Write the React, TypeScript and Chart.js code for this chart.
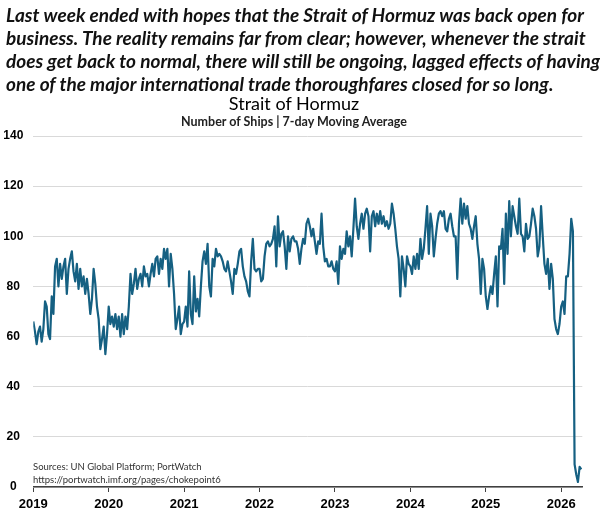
import React, { useEffect, useRef } from "react";
import { Chart, registerables } from "chart.js";

Chart.register(...registerables);

// ---- data (number of ships, 7-day moving average, sampled ~every 8 days) ----
const years = [2019, 2020, 2021, 2022, 2023, 2024, 2025, 2026];
const samplesPerYear = 45;
const ships2019 = [66, 62, 57, 62, 64, 58, 63, 74, 72, 61, 59, 76, 69, 88, 91, 80, 89, 83, 88, 91, 77, 87, 91, 94, 86, 82, 89, 79, 87, 80, 84, 77, 83, 77, 69, 75, 87, 81, 72, 67, 55, 59, 64, 53, 61];
const ships2020 = [72, 65, 68, 64, 69, 63, 68, 60, 69, 61, 68, 63, 72, 85, 77, 81, 87, 79, 83, 85, 80, 88, 84, 85, 80, 85, 89, 84, 91, 92, 85, 91, 87, 95, 91, 95, 80, 93, 87, 77, 63, 67, 72, 61, 65];
const ships2021 = [66, 72, 64, 86, 69, 65, 84, 70, 75, 68, 80, 90, 94, 89, 97, 80, 76, 91, 88, 95, 92, 93, 92, 90, 87, 86, 90, 86, 82, 77, 87, 85, 89, 94, 95, 88, 84, 82, 78, 76, 90, 99, 87, 86, 87];
const ships2022 = [87, 82, 83, 92, 97, 98, 96, 97, 99, 104, 88, 108, 96, 101, 102, 96, 87, 100, 94, 99, 100, 98, 98, 95, 89, 95, 99, 97, 105, 107, 104, 100, 103, 98, 93, 98, 97, 109, 96, 90, 91, 88, 88, 90, 87];
const ships2023 = [86, 90, 81, 96, 91, 95, 93, 102, 96, 100, 92, 103, 115, 104, 99, 105, 109, 103, 109, 111, 108, 94, 108, 110, 104, 109, 105, 110, 105, 108, 104, 106, 103, 105, 113, 109, 103, 96, 91, 76, 92, 87, 80, 92, 89];
const ships2024 = [88, 85, 92, 87, 93, 87, 99, 91, 95, 103, 112, 93, 109, 104, 92, 99, 105, 109, 110, 108, 110, 103, 102, 107, 109, 104, 100, 100, 83, 105, 115, 105, 113, 107, 112, 105, 103, 99, 104, 108, 97, 91, 77, 91, 87];
const ships2025 = [76, 71, 76, 80, 77, 85, 92, 72, 96, 95, 103, 81, 109, 93, 114, 100, 112, 108, 104, 101, 115, 101, 100, 94, 105, 99, 100, 105, 111, 108, 103, 92, 96, 112, 100, 89, 85, 91, 79, 89, 83, 67, 63, 61, 65];
const ships2026 = [72, 74, 69, 84, 84, 93, 107, 102, 9, 5, 2, 8, 7];
const shipsByYear = [ships2019, ships2020, ships2021, ships2022, ships2023, ships2024, ships2025, ships2026];

const xTickValues = [2019, 2020, 2021, 2022, 2023, 2024, 2025, 2026];
const xMin = 2019;
const xMax = 2026.28;
const yMin = 0;
const yMax = 140;
const yStep = 20;

const headerLines = [
  "Last week ended with hopes that the Strait of Hormuz was back open for",
  "business. The reality remains far from clear; however, whenever the strait",
  "does get back to normal, there will still be ongoing, lagged effects of having",
  "one of the major international trade thoroughfares closed for so long.",
];
const chartTitle = "Strait of Hormuz";
const chartSubtitle = "Number of Ships | 7-day Moving Average";
const sourceLines = ["Sources: UN Global Platform; PortWatch", "https://portwatch.imf.org/pages/chokepoint6"];

const LINE_COLOR = "#156082";
const TICK_FONT = "'Liberation Sans', Arial, sans-serif";
const HEADER_FONT = "Lato, sans-serif";
const TITLE_FONT = "Lato, 'Liberation Sans', sans-serif";

export default function App() {
  const canvasRef = useRef<HTMLCanvasElement | null>(null);

  useEffect(() => {
    const canvas = canvasRef.current;
    if (!canvas) return;
    const points = years.flatMap((yr, k) =>
      shipsByYear[k].map((v, i) => ({ x: yr + i / samplesPerYear, y: v }))
    );
    const chart = new Chart(canvas, {
      type: "line",
      data: {
        datasets: [
          {
            label: "Number of Ships",
            data: points,
            borderColor: LINE_COLOR,
            backgroundColor: LINE_COLOR,
            borderWidth: 2.2,
            pointRadius: 0,
            tension: 0,
            borderJoinStyle: "round",
            fill: false,
          },
        ],
      },
      options: {
        animation: false,
        responsive: false,
        maintainAspectRatio: false,
        parsing: false,
        layout: { padding: { top: 136, right: 17.7, bottom: 0, left: 0 } },
        plugins: {
          legend: { display: false },
          tooltip: { enabled: false },
          title: { display: false },
        },
        scales: {
          x: {
            type: "linear",
            min: xMin,
            max: xMax,
            afterBuildTicks: (scale: any) => {
              scale.ticks = xTickValues.map((v) => ({ value: v }));
            },
            afterFit: (scale: any) => {
              scale.height = 23;
            },
            ticks: {
              autoSkip: false,
              maxRotation: 0,
              padding: 5,
              color: "#000",
              font: { family: TICK_FONT, size: 13, weight: "bold" },
              callback: (v: any) => String(v),
            },
            grid: {
              display: true,
              drawOnChartArea: false,
              drawTicks: true,
              tickLength: 5,
              color: "#404040",
              lineWidth: 1,
            },
            border: { display: true, color: "#404040", width: 1.5 },
          },
          y: {
            min: yMin,
            max: yMax,
            afterFit: (scale: any) => {
              scale.width = 33.3;
            },
            ticks: {
              stepSize: yStep,
              padding: 10,
              crossAlign: "center",
              color: "#000",
              font: { family: TICK_FONT, size: 12, weight: "bold" },
            },
            grid: { color: "#d9d9d9", lineWidth: 1, drawTicks: false },
            border: { display: false },
          },
        },
      },
    });
    return () => chart.destroy();
  }, []);

  return (
    <div
      style={{
        position: "absolute",
        left: 0,
        top: 0,
        width: 600,
        height: 510,
        background: "#fff",
        overflow: "hidden",
      }}
    >
      <canvas ref={canvasRef} width={600} height={510} style={{ position: "absolute", left: 0, top: 0, width: 600, height: 510 }} />
      {headerLines.map((t, i) => (
        <div
          key={i}
          style={{
            position: "absolute",
            left: 6,
            top: 3 + i * 23,
            whiteSpace: "nowrap",
            fontFamily: HEADER_FONT,
            fontStyle: "italic",
            fontWeight: "bold",
            fontSize: 19,
            lineHeight: "23px",
            color: "#111",
          }}
        >
          {t}
        </div>
      ))}
      <div
        style={{
          position: "absolute",
          left: 0,
          width: 588,
          top: 93,
          textAlign: "center",
          fontFamily: TITLE_FONT,
          fontSize: 18,
          lineHeight: "20px",
          color: "#000",
        }}
      >
        {chartTitle}
      </div>
      <div
        style={{
          position: "absolute",
          left: 0,
          width: 588,
          top: 114,
          textAlign: "center",
          fontFamily: TITLE_FONT,
          fontSize: 12.5,
          fontWeight: "bold",
          lineHeight: "15px",
          color: "#222",
        }}
      >
        {chartSubtitle}
      </div>
      <div
        style={{
          position: "absolute",
          left: 33,
          top: 460,
          fontFamily: TITLE_FONT,
          fontSize: 9.5,
          lineHeight: "13px",
          color: "#333",
          whiteSpace: "nowrap",
        }}
      >
        {sourceLines.map((s, i) => (
          <div key={i}>{s}</div>
        ))}
      </div>
    </div>
  );
}
